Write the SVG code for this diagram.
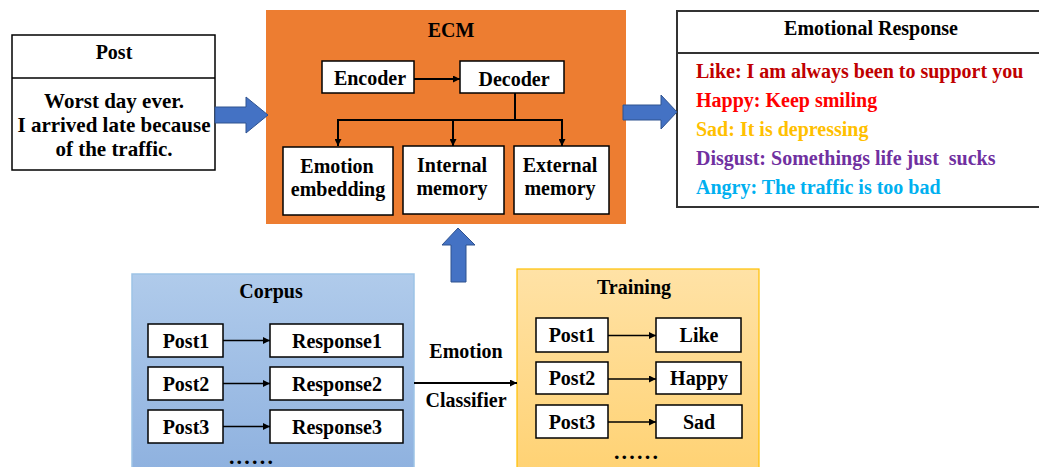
<svg xmlns="http://www.w3.org/2000/svg" width="1039" height="467" viewBox="0 0 1039 467">
  <defs>
    <linearGradient id="corpusFill" x1="0" y1="0" x2="0" y2="1">
      <stop offset="0" stop-color="#B0CBEB"/>
      <stop offset="1" stop-color="#8EB1DF"/>
    </linearGradient>
    <linearGradient id="trainFill" x1="0" y1="0" x2="0" y2="1">
      <stop offset="0" stop-color="#FFE2A6"/>
      <stop offset="1" stop-color="#FFD273"/>
    </linearGradient>
    <marker id="head" viewBox="0 0 10 10" refX="10" refY="5" markerWidth="7" markerHeight="7" markerUnits="userSpaceOnUse" orient="auto">
      <path d="M0,0 L10,5 L0,10 Z" fill="#000"/>
    </marker>
  </defs>
  <style>
    text { font-family: "Liberation Serif", "Times New Roman", serif; font-weight: bold; font-size: 20px; fill: #000; }
    .c { text-anchor: middle; }
    .pre { white-space: pre; }
    .box { fill: #fff; stroke: #000; stroke-width: 1.5; }
    .wire { fill: none; stroke: #000; stroke-width: 2; }
    .thin { fill: none; stroke: #000; stroke-width: 1.6; }
    .block { fill: #4472C4; stroke: #2F528F; stroke-width: 1; }
    .dots { font-size: 22px; letter-spacing: 2.2px; }
  </style>

  <!-- input post -->
  <g id="post">
    <rect class="box" x="12" y="35" width="203" height="135"/>
    <line x1="12" y1="78" x2="215" y2="78" stroke="#000" stroke-width="1.5"/>
    <text class="c" x="114" y="59">Post</text>
    <text class="c" x="114" y="108" style="font-size:21px">Worst day ever.</text>
    <text class="c" x="114" y="132" style="font-size:21px">I arrived late because</text>
    <text class="c" x="114" y="156" style="font-size:21px">of the traffic.</text>
  </g>

  <!-- ECM model -->
  <g id="ecm">
    <rect x="266" y="10" width="360" height="214" fill="#ED7D31"/>
    <text class="c" x="451" y="37">ECM</text>
  </g>
  <g id="encoder">
    <rect class="box" x="322" y="61" width="92" height="32"/>
    <text class="c" x="370" y="85">Encoder</text>
  </g>
  <g id="decoder">
    <rect class="box" x="460" y="61" width="104" height="32"/>
    <text class="c" x="514" y="86">Decoder</text>
  </g>
  <g id="emotion-embedding">
    <rect class="box" x="283" y="147" width="110" height="68"/>
    <text class="c" x="337" y="173">Emotion</text>
    <text class="c" x="338" y="196">embedding</text>
  </g>
  <g id="internal-memory">
    <rect class="box" x="403" y="146" width="101" height="68"/>
    <text class="c" x="452" y="172">Internal</text>
    <text class="c" x="452" y="195">memory</text>
  </g>
  <g id="external-memory">
    <rect class="box" x="514" y="146" width="95" height="68"/>
    <text class="c" x="560" y="172">External</text>
    <text class="c" x="560" y="195">memory</text>
  </g>

  <!-- emotional responses -->
  <g id="emotional-response">
    <rect x="677" y="11" width="390" height="196" fill="#fff" stroke="#333" stroke-width="2"/>
    <line x1="677" y1="53" x2="1039" y2="53" stroke="#333" stroke-width="2"/>
    <text class="c" x="871" y="35">Emotional Response</text>
    <text x="696" y="78" style="fill:#C00000">Like: I am always been to support you</text>
    <text x="696" y="107" style="fill:#FF0000">Happy: Keep smiling</text>
    <text x="696" y="136" style="fill:#FFC000">Sad: It is depressing</text>
    <text class="pre" x="696" y="165" style="fill:#7030A0" xml:space="preserve">Disgust: Somethings life just  sucks</text>
    <text x="696" y="194" style="fill:#00B0F0">Angry: The traffic is too bad</text>
  </g>

  <!-- corpus -->
  <g id="corpus">
    <rect x="132" y="274" width="282" height="200" fill="url(#corpusFill)" stroke="#9DC3E6" stroke-width="1.5"/>
    <text class="c" x="271" y="298">Corpus</text>
    <rect class="box" x="148" y="324" width="75" height="33"/>
    <text class="c" x="186" y="348">Post1</text>
    <rect class="box" x="270" y="324" width="133" height="33"/>
    <text class="c" x="337" y="348">Response1</text>
    <rect class="box" x="148" y="367" width="75" height="33"/>
    <text class="c" x="186" y="391">Post2</text>
    <rect class="box" x="270" y="367" width="133" height="33"/>
    <text class="c" x="337" y="391">Response2</text>
    <rect class="box" x="148" y="410" width="75" height="33"/>
    <text class="c" x="186" y="434">Post3</text>
    <rect class="box" x="270" y="410" width="133" height="33"/>
    <text class="c" x="337" y="434">Response3</text>
    <text class="c dots" x="252" y="464">......</text>
  </g>

  <!-- training set -->
  <g id="training">
    <rect x="517" y="269" width="242" height="205" fill="url(#trainFill)" stroke="#FFC000" stroke-width="1.2"/>
    <text class="c" x="634" y="294">Training</text>
    <rect class="box" x="536" y="318" width="72" height="34"/>
    <text class="c" x="572" y="342">Post1</text>
    <rect class="box" x="656" y="318" width="85" height="34"/>
    <text class="c" x="699" y="342">Like</text>
    <rect class="box" x="536" y="362" width="72" height="32"/>
    <text class="c" x="572" y="385">Post2</text>
    <rect class="box" x="656" y="362" width="85" height="32"/>
    <text class="c" x="699" y="385">Happy</text>
    <rect class="box" x="536" y="405" width="72" height="33"/>
    <text class="c" x="572" y="429">Post3</text>
    <rect class="box" x="656" y="405" width="86" height="33"/>
    <text class="c" x="699" y="429">Sad</text>
    <text class="c dots" x="637" y="459">......</text>
  </g>

  <!-- connectors -->
  <g id="connectors">
    <!-- block arrows -->
    <path class="block" d="M215,107 H246 V97 L268,115 L246,133 V123 H215 Z"/>
    <path class="block" d="M623,105 H661 V95 L677,112 L661,129 V120 H623 Z"/>
    <path class="block" d="M451,282 V245 H442 L458,228 L475,245 H466 V282 Z"/>
    <!-- ECM internals -->
    <line class="wire" x1="414" y1="79" x2="460" y2="79" marker-end="url(#head)"/>
    <polyline class="wire" points="515,93 515,120"/>
    <polyline class="wire" points="338,120 562,120"/>
    <line class="wire" x1="338" y1="119" x2="338" y2="146" marker-end="url(#head)"/>
    <line class="wire" x1="453" y1="120" x2="453" y2="146" marker-end="url(#head)"/>
    <line class="wire" x1="562" y1="119" x2="562" y2="146" marker-end="url(#head)"/>
    <!-- corpus pairs -->
    <line class="thin" x1="223" y1="340.5" x2="270" y2="340.5" marker-end="url(#head)"/>
    <line class="thin" x1="223" y1="383.5" x2="270" y2="383.5" marker-end="url(#head)"/>
    <line class="thin" x1="223" y1="426.5" x2="270" y2="426.5" marker-end="url(#head)"/>
    <!-- classifier -->
    <line class="wire" x1="414" y1="383" x2="517" y2="383" marker-end="url(#head)"/>
    <text class="c" x="466" y="358">Emotion</text>
    <text class="c" x="466" y="407">Classifier</text>
    <!-- training pairs -->
    <line class="thin" x1="608" y1="335.5" x2="656" y2="335.5" marker-end="url(#head)"/>
    <line class="thin" x1="608" y1="379" x2="656" y2="379" marker-end="url(#head)"/>
    <line class="thin" x1="608" y1="422" x2="656" y2="422" marker-end="url(#head)"/>
  </g>
</svg>
